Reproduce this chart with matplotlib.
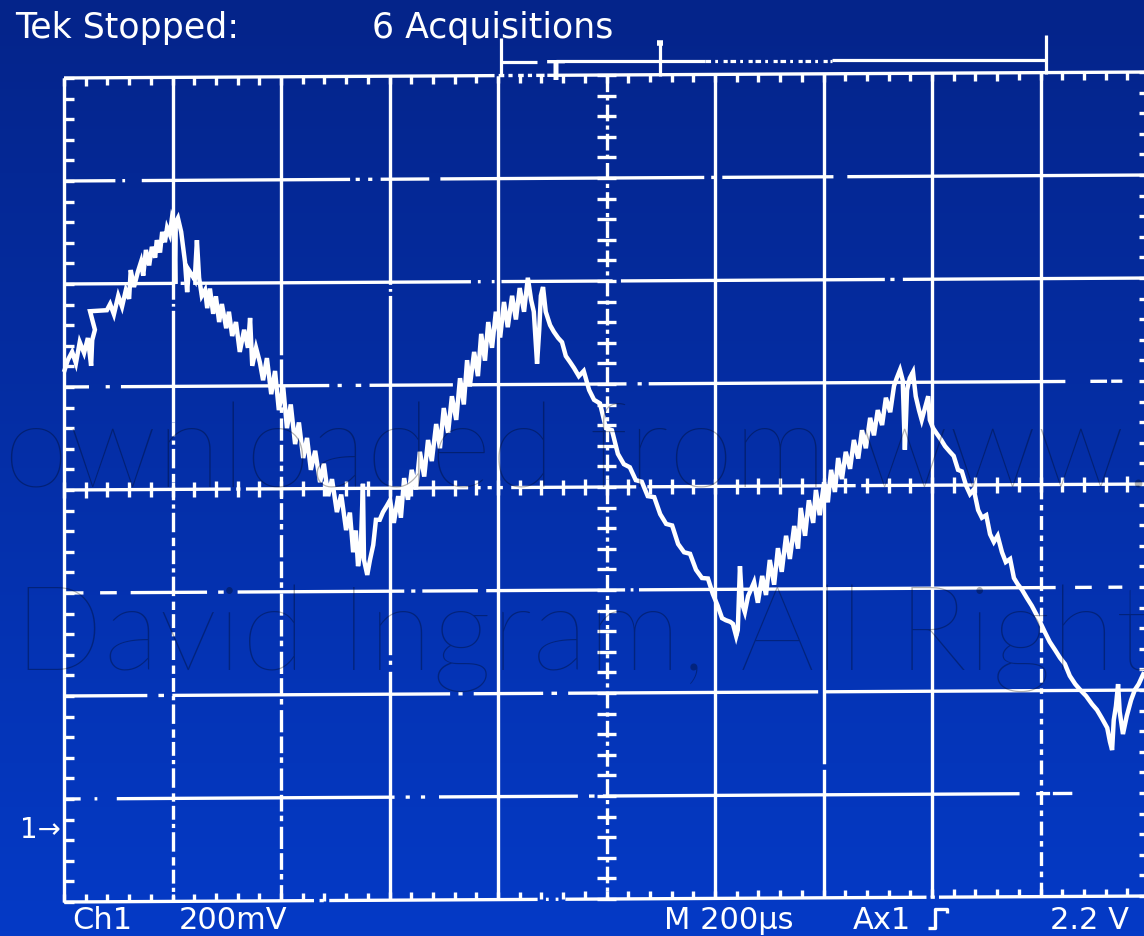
import numpy as np
import matplotlib
matplotlib.use("Agg")
import matplotlib.pyplot as plt
from matplotlib.collections import LineCollection
from matplotlib.colors import LinearSegmentedColormap
from matplotlib.transforms import blended_transform_factory

plt.rcParams['lines.scale_dashes'] = False
plt.rcParams['lines.solid_capstyle'] = 'butt'
plt.rcParams['lines.dash_capstyle'] = 'butt'

# ---------------- data (time in µs, voltage in mV relative to screen centre) -------------
time_us = [0, 7, 15, 22, 29, 37, 44, 50, 52, 57, 48, 79, 85, 92, 100, 107, 114, 120, 123, 129,
           136, 142, 146, 151, 157, 162, 168, 171, 177, 181, 186, 190, 195, 199, 203, 205, 206, 210, 216, 219,
           223, 227, 230, 236, 241, 245, 249, 254, 260, 264, 269, 275, 280, 286, 291, 299, 304, 310, 317, 324,
           332, 339, 343, 347, 354, 361, 367, 374, 382, 389, 396, 404, 411, 418, 426, 433, 441, 448, 455, 463,
           472, 479, 487, 494, 503, 511, 520, 527, 533, 538, 542, 547, 551, 553, 559, 564, 570, 575, 582, 588,
           595, 601, 608, 616, 621, 627, 634, 641, 649, 656, 664, 671, 678, 686, 693, 700, 708, 715, 723, 730,
           737, 743, 748, 756, 763, 769, 776, 782, 789, 796, 804, 811, 818, 826, 833, 840, 848, 855, 861, 866,
           872, 876, 879, 883, 888, 896, 903, 911, 918, 925, 933, 940, 949, 958, 968, 977, 988, 999, 1010, 1021,
           1032, 1043, 1054, 1065, 1076, 1088, 1099, 1110, 1121, 1132, 1143, 1154, 1165, 1176, 1187, 1196, 1205,
           1213, 1220, 1228, 1233, 1239, 1242, 1246, 1250, 1255, 1261, 1266,
           1272, 1279, 1287, 1294, 1301, 1309, 1316, 1323, 1331, 1338, 1346, 1353, 1358, 1366, 1373, 1381, 1386,
           1393, 1401, 1408, 1414, 1421, 1427, 1434, 1441, 1449, 1456, 1464, 1471, 1478, 1486, 1493, 1500, 1508,
           1515, 1523, 1530, 1535, 1541, 1546, 1550, 1554, 1559, 1565, 1570, 1576, 1581, 1587, 1593, 1596, 1602,
           1609, 1617, 1624, 1633, 1640, 1648, 1655, 1663, 1670, 1677, 1685, 1692, 1700, 1707, 1714, 1721, 1729,
           1736, 1744, 1751, 1758, 1766, 1775, 1784, 1792, 1799, 1808, 1817, 1827, 1836, 1845, 1854, 1864, 1873,
           1884, 1895, 1904, 1913, 1923, 1928, 1932, 1935, 1939, 1943, 1946, 1952, 1959, 1967, 1974, 1981, 1991]
volt_mV = [233, 256, 272, 250, 291, 270, 299, 245, 295, 315, 351, 353, 365, 345, 381, 360, 392, 375, 431, 398,
           427, 447, 420, 470, 440, 476, 455, 489, 465, 505, 485, 513, 500, 532, 520, 404, 524, 532, 505, 480,
           447, 388, 431, 421, 412, 489, 416, 381, 392, 357, 395, 346, 380, 330, 365, 318, 350, 303, 330, 272,
           315, 280, 338, 245, 280, 252, 217, 260, 190, 235, 159, 205, 124, 170, 93, 135, 66, 105, 43, 80,
           19, 55, -8, 25, -39, -5, -74, -40, -117, -75, -144, -113, 16, -132, -161, -132, -103, -54, -54, -39,
           -27, -16, -60, -8, -50, 27, -15, 43, 5, 78, 30, 101, 60, 132, 85, 163, 115, 186, 140, 221,
           170, 256, 205, 272, 225, 307, 255, 330, 280, 350, 300, 369, 320, 381, 335, 396, 350, 416, 373, 350,
           249, 315, 381, 398, 350, 324, 311, 299, 291, 264, 252, 241, 225, 235, 198, 179, 172, 124, 120, 74,
           54, 48, 23, 20, -8, -10, -43, -62, -65, -101, -117, -120, -151, -167, -168, -198, -221, -245, -249,
           -252, -256, -280, -268, -144, -217, -233, -202, -190,
           -175, -215, -163, -200, -132, -180, -109, -155, -85, -130, -66, -110, -31, -85, -16, -60, 4,
           -45, 19, -20, 43, 0, 66, 25, 78, 45, 101, 65, 120, 85, 144, 110, 159, 130,
           183, 155, 206, 221, 237, 217, 82, 198, 221, 233, 186, 159, 140, 163, 186, 140, 124,
           113, 101, 89, 78, 70, 43, 40, 12, -4, 5, -35, -50, -45, -82, -97, -85, -117,
           -136, -130, -167, -179, -190, -206, -221, -237, -252, -272, -291, -307, -322, -334, -357, -373, -384,
           -396, -412, -423, -439, -458, -485, -501, -443, -416, -373, -427, -470, -435, -404, -384, -373, -350]

time_per_div_us = 200
volt_per_div_mV = 200
n_xdiv = 10
n_ydiv = 8
minor_per_div = 5
ground_level_mV = -656

status_text = 'Tek Stopped:'
acq_text = '6 Acquisitions'
ch_text = 'Ch1'
vscale_text = '200mV'
tscale_text = 'M 200\u00b5s'
trig_text = 'Ax1'
trig_level_text = '2.2 V'
ground_text = '1\u2192'
watermark_lines = ['Downloaded from www.', 'David Ingram, All Rights']

# ---------------- figure -------------
W, H = 1144, 936
fig = plt.figure(figsize=(W / 100, H / 100), dpi=100)
ax = fig.add_axes([0, 0, 1, 1])
ax.axis('off')

cmap = LinearSegmentedColormap.from_list('scope', ['#04248a', '#053ac6'])
grad = np.linspace(0, 1, 256).reshape(-1, 1)
ax.imshow(grad, aspect='auto', cmap=cmap, extent=(0, 1, 0, 1),
          transform=ax.transAxes, zorder=0, interpolation='bilinear')

px_div_x, px_div_y = 108.5, 103.0
ax.set_xlim(-64 / px_div_x * time_per_div_us, (W - 64) / px_div_x * time_per_div_us)
ax.set_ylim(-(H - 492) / px_div_y * volt_per_div_mV, 492 / px_div_y * volt_per_div_mV)

t_end = n_xdiv * time_per_div_us
v_top = n_ydiv / 2 * volt_per_div_mV
t_mid = t_end / 2


def tilt(t):
    return 3.9 + 0.0058 * np.asarray(t, dtype=float)


gc = 'white'
glw = 2.4

# horizontal graticule lines (top to bottom)
h_styles = [
    (0, (310, 3, 4, 3, 3, 4, 4, 3, 3, 3, 6, 2, 800)),
    (0, (37, 5, 2, 12, 150, 4, 3, 6, 3, 6, 35, 8, 190, 5, 3, 5, 80, 10, 300)),
    (0, (80, 4, 3, 6, 200, 5, 2, 8, 2, 5, 80, 6, 190, 4, 3, 6, 300)),
    (0, (18, 12, 3, 8, 150, 6, 3, 10, 4, 6, 60, 5, 120, 8, 3, 5, 300)),
    (0, (120, 4, 3, 4, 160, 6, 3, 5, 3, 5, 3, 6, 90, 8, 150, 4, 300)),
    (0, (14, 12, 12, 10, 55, 8, 4, 10, 120, 5, 3, 5, 40, 6, 100, 4, 2, 4, 300)),
    (0, (60, 8, 4, 6, 200, 6, 3, 8, 50, 6, 4, 8, 180, 5, 300)),
    (0, (12, 10, 2, 14, 200, 8, 3, 8, 3, 10, 100, 8, 4, 6, 300)),
    (0, (180, 4, 3, 4, 150, 6, 2, 5, 2, 5, 260, 3, 3, 3, 300)),
]
for i, k in enumerate(range(n_ydiv // 2, -n_ydiv // 2 - 1, -1)):
    v = k * volt_per_div_mV
    ax.plot([0, t_end], [v + tilt(0), v + tilt(t_end)], color=gc, lw=glw,
            ls=h_styles[i], zorder=2)

# vertical graticule lines: (upper style, lower style, split level in mV)
v_styles = {
    0: ('-', '-', 0),
    1: ((0, (160, 3, 2, 3, 400)), (0, (10, 3, 3, 3, 14, 4, 6, 3)), 130),
    2: ((0, (200, 3, 400)), (0, (12, 3, 4, 4, 16, 3)), 200),
    3: ((0, (150, 3, 2, 3, 400)), (0, (120, 4, 3, 5, 400)), 0),
    4: ('-', '-', 0),
    5: ((0, (12, 3, 3, 3)), (0, (12, 3, 3, 3)), 0),
    6: ('-', '-', 0),
    7: ('-', (0, (200, 4, 400)), 0),
    8: ('-', '-', 0),
    9: ('-', (0, (10, 4, 4, 4)), 0),
    10: ((0, (8, 4)), (0, (8, 4)), 0),
}
for k in range(n_xdiv + 1):
    t = k * time_per_div_us
    up, lo, split = v_styles[k]
    ax.plot([t, t], [v_top + tilt(t), split + tilt(t)], color=gc, lw=glw, ls=up, zorder=2)
    ax.plot([t, t], [split + tilt(t), -v_top + tilt(t)], color=gc, lw=glw, ls=lo, zorder=2)

# minor ticks
segs = []
dt = time_per_div_us / minor_per_div
dv = volt_per_div_mV / minor_per_div
tick_t = 17.0   # µs half-length of cross ticks on the centre line
edge_t = 18.0   # µs length of ticks on left/right borders
tick_v = 15.0   # mV half-length of vertical ticks
for v in np.arange(-v_top, v_top + 1, dv):
    segs.append([(t_mid - tick_t, v + tilt(t_mid)), (t_mid + tick_t, v + tilt(t_mid))])
    segs.append([(0, v + tilt(0)), (edge_t, v + tilt(0))])
    segs.append([(t_end - edge_t, v + tilt(t_end)), (t_end, v + tilt(t_end))])
for t in np.arange(0, t_end + 1, dt):
    segs.append([(t, tilt(t) - tick_v), (t, tilt(t) + tick_v)])
    segs.append([(t, v_top + tilt(t)), (t, v_top + tilt(t) - tick_v)])
    segs.append([(t, -v_top + tilt(t)), (t, -v_top + tilt(t) + tick_v)])
ax.add_collection(LineCollection(segs, colors=gc, linewidths=glw, zorder=2))

# trace
ax.plot(time_us, volt_mV, color='white', lw=3.2, zorder=3, solid_joinstyle='miter')

# ---------------- pixel overlay for screen annotations -------------
ov = fig.add_axes([0, 0, 1, 1])
ov.set_xlim(0, W)
ov.set_ylim(H, 0)
ov.axis('off')
ov.patch.set_alpha(0)

tk = dict(color='white', family='DejaVu Sans')
ov.text(15, 38, status_text, fontsize=25, va='baseline', **tk)
ov.text(372, 38, acq_text, fontsize=25, va='baseline', **tk)
ov.text(72, 935, ch_text, fontsize=22, va='bottom', **tk)
ov.text(179, 935, vscale_text, fontsize=22, va='bottom', **tk)
ov.text(664, 935, tscale_text, fontsize=22, va='bottom', **tk)
ov.text(853, 935, trig_text, fontsize=22, va='bottom', **tk)
ov.text(1050, 935, trig_level_text, fontsize=22, va='bottom', **tk)

# trigger slope symbol
ov.plot([928, 935, 935, 947, 947], [928, 928, 909, 909, 913], color='white', lw=2.4)

# record / trigger position bar
bl = dict(color='white', lw=2.3)
ov.plot([501, 501], [38, 76], **bl)
ov.plot([501, 537], [62, 62], **bl)
ov.plot([556, 705], [60.5, 60.5], **bl)
ov.plot([705, 832], [60.5, 60.5], color='white', lw=2.3, ls=(0, (4, 3, 2, 4, 3, 2)))
ov.plot([832, 1046], [60, 60], **bl)
ov.plot([660, 660], [41, 76], **bl)
ov.plot([657, 663], [43, 43], color='white', lw=4)
ov.plot([1046, 1046], [35, 74], **bl)
ov.text(556, 80, 'T', fontsize=19, fontweight='bold', color='white', ha='center', va='baseline',
        family='DejaVu Sans')

# ground marker for channel 1
gtrans = blended_transform_factory(ov.transData, ax.transData)
ax.text(20, ground_level_mV, ground_text, transform=gtrans, fontsize=20, color='white',
        va='center', ha='left', family='DejaVu Sans', zorder=4)

# watermark
wm = dict(color='black', alpha=0.3, fontsize=85, family=['Lato', 'Open Sans', 'DejaVu Sans'],
          fontweight='light', va='baseline', zorder=10)
ov.text(-86, 487, watermark_lines[0], **wm)
ov.text(14, 670, watermark_lines[1], **wm)

fig.savefig('out.png', dpi=100)
